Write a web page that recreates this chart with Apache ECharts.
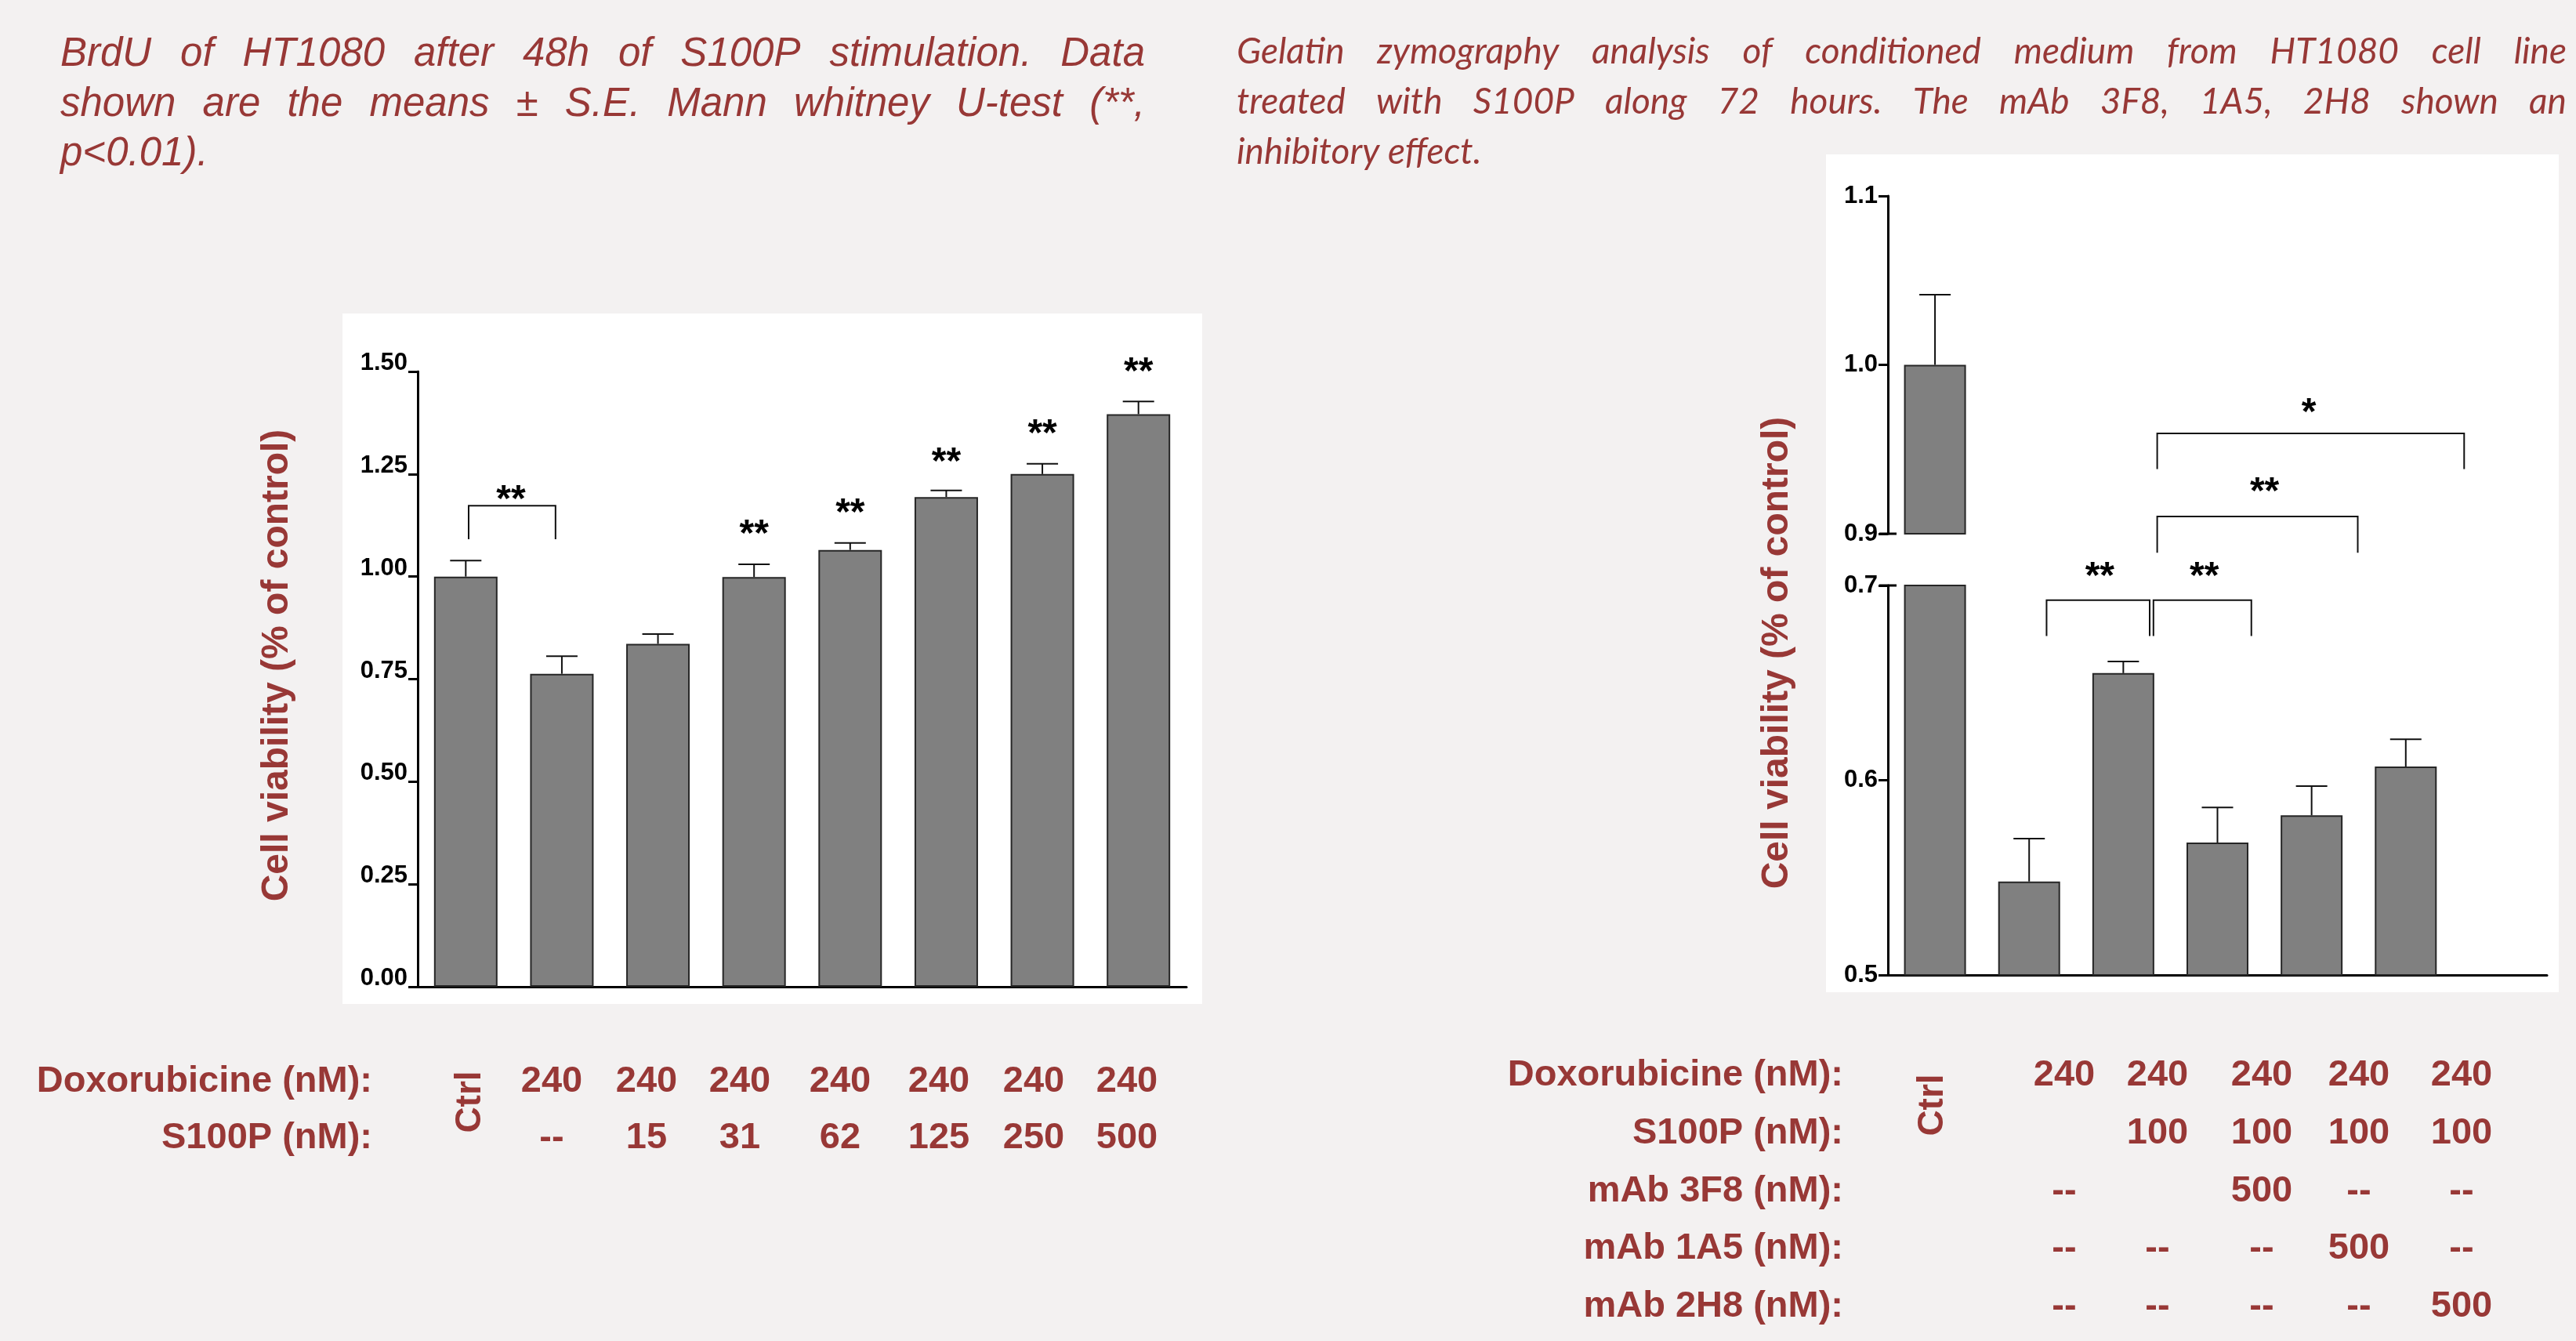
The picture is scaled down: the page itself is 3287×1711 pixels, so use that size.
<!DOCTYPE html>
<html>
<head>
<meta charset="utf-8">
<script src="https://cdn.jsdelivr.net/npm/echarts@6/dist/echarts.min.js"></script>
<style>
html, body { margin: 0; padding: 0; background: #f3f1f1; }
#main { width: 3287px; height: 1711px; }
</style>
</head>
<body>
<div id="main"></div>
<script>
var FONT = '"Liberation Sans", Arial, sans-serif';
var RED = '#983836';

// ---- left chart (BrdU) ----
var leftMeans = [1.000, 0.763, 0.836, 0.999, 1.065, 1.194, 1.250, 1.396];
var leftErrTop = [1.039, 0.806, 0.860, 1.030, 1.082, 1.210, 1.275, 1.427];
var leftTicks = [0, 0.25, 0.5, 0.75, 1.0, 1.25, 1.5];
// [x, y, text]
var leftStars = [[0.47, 1.206, '**'], [3, 1.121, '**'], [4, 1.172, '**'], [5, 1.298, '**'], [6, 1.366, '**'], [7, 1.517, '**']];
// [xFrom, xTo, yTop, yLeg]
var leftBrackets = [[0.03, 0.934, 1.173, 1.091]];

// ---- right chart (zymography), broken axis ----
var rightMeans = [1.000, 0.548, 0.655, 0.568, 0.582, 0.607];
var rightErrTop = [1.0415, 0.570, 0.661, 0.586, 0.597, 0.621];
var upperTicks = [0.9, 1.0, 1.1];
var lowerTicks = [0.5, 0.6, 0.7];
var upperBrackets = [[2.36, 4.49, 0.9102, 0.8888], [2.36, 5.62, 0.9594, 0.9383]];
var upperStars = [[3.5, 0.929, '**'], [3.97, 0.976, '*']];
var lowerBrackets = [[1.185, 2.28, 0.6925, 0.674], [2.32, 3.36, 0.6925, 0.674]];
var lowerStars = [[1.75, 0.7083, '**'], [2.86, 0.7083, '**']];

// ---- texts ----
var yTitle = 'Cell viability (% of control)';
var leftTitle = [
    'BrdU of HT1080 after 48h of S100P stimulation. Data',
    'shown are the means \u00b1 S.E. Mann whitney U-test  (**,',
    'p<0.01).'
];
var rightTitle = [
    'Gelatin zymography analysis of conditioned medium from HT1080 cell line',
    'treated with S100P along 72 hours. The mAb  3F8, 1A5, 2H8 shown an',
    'inhibitory effect.'
];
var leftRowLabels = ['Doxorubicine (nM):', 'S100P (nM):'];
var leftRowValues = [
    ['240', '240', '240', '240', '240', '240', '240'],
    ['--', '15', '31', '62', '125', '250', '500']
];
var rightRowLabels = ['Doxorubicine (nM):', 'S100P (nM):', 'mAb 3F8 (nM):', 'mAb 1A5 (nM):', 'mAb 2H8 (nM):'];
var rightRowValues = [
    ['240', '240', '240', '240', '240'],
    ['', '100', '100', '100', '100'],
    ['--', '', '500', '--', '--'],
    ['--', '--', '--', '500', '--'],
    ['--', '--', '--', '--', '500']
];

// layout of the tables
var leftCols = [704, 825, 944, 1072, 1198, 1319, 1438];
var leftBaselines = [1396, 1468];
var rightCols = [2634, 2753, 2886, 3010, 3141];
var rightBaselines = [1388, 1462, 1536, 1609, 1683];

var measureCtx = document.createElement('canvas').getContext('2d');

function textEl(x, y, text, font, align, rotation) {
    var el = {
        type: 'text', x: x, y: y, silent: true,
        style: {
            text: text, font: font, fill: RED,
            textAlign: align, align: align,
            textVerticalAlign: 'middle', verticalAlign: 'middle'
        }
    };
    if (rotation) el.rotation = rotation;
    return el;
}

// one line of text, words spread from x0 to x1 when justify is set
function paragraphLine(out, text, family, size, mid, x0, x1, baseline, justify) {
    var font = 'italic ' + size + 'px ' + family;
    measureCtx.font = font;
    var words = text.split(/\s+/);
    var widths = words.map(function(w) { return measureCtx.measureText(w).width; });
    var total = widths.reduce(function(a, b) { return a + b; }, 0);
    var gap = justify ? (x1 - x0 - total) / (words.length - 1) : measureCtx.measureText(' ').width;
    var x = x0;
    words.forEach(function(w, i) {
        out.push(textEl(x, baseline - mid * size, w, font, 'left'));
        x += widths[i] + gap;
    });
}

function fitSize(lines, family, size, width) {
    var s = size;
    lines.forEach(function(line) {
        measureCtx.font = 'italic ' + s + 'px ' + family;
        var words = line.split(/\s+/);
        var w = words.reduce(function(a, t) { return a + measureCtx.measureText(t).width; }, 0);
        var need = w + (words.length - 1) * 0.22 * s;
        if (need > width) s = s * width / need;
    });
    return s;
}

var graphics = [
    { type: 'rect', z: -10, silent: true, shape: { x: 437, y: 400, width: 1097, height: 881 }, style: { fill: '#ffffff' } },
    { type: 'rect', z: -10, silent: true, shape: { x: 2330, y: 197, width: 935, height: 1069 }, style: { fill: '#ffffff' } }
];

var LS = '"Liberation Sans", Arial, sans-serif';
var LATO = 'Lato, "Open Sans", sans-serif';
[88, 152, 215].forEach(function(b, i) {
    paragraphLine(graphics, leftTitle[i], LS, 51, 0.35, 77, 1461, b, i < 2);
});
var rsize = fitSize(rightTitle.slice(0, 2), LATO, 46, 1697);
[84, 148, 212].forEach(function(b, i) {
    paragraphLine(graphics, rightTitle[i], LATO, rsize, 0.387, 1578, 3275, b, i < 2);
});

graphics.push(textEl(354, 849, yTitle, 'bold 48px ' + LS, 'center', Math.PI / 2));
graphics.push(textEl(2268, 833, yTitle, 'bold 48px ' + LS, 'center', Math.PI / 2));

var tableFont = 'bold 47px ' + LS;
leftRowLabels.forEach(function(lab, r) {
    var y = leftBaselines[r] - 16;
    graphics.push(textEl(475, y, lab, tableFont, 'right'));
    leftRowValues[r].forEach(function(v, c) {
        if (v) graphics.push(textEl(leftCols[c], y, v, tableFont, 'center'));
    });
});
graphics.push(textEl(600, 1406, 'Ctrl', 'bold 46px ' + LS, 'center', Math.PI / 2));

rightRowLabels.forEach(function(lab, r) {
    var y = rightBaselines[r] - 16;
    graphics.push(textEl(2352, y, lab, tableFont, 'right'));
    rightRowValues[r].forEach(function(v, c) {
        if (v) graphics.push(textEl(rightCols[c], y, v, tableFont, 'center'));
    });
});
graphics.push(textEl(2466, 1410, 'Ctrl', 'bold 46px ' + LS, 'center', Math.PI / 2));

// ---- series builders ----
function barSeries(xi, yi, means, width) {
    return {
        type: 'bar', xAxisIndex: xi, yAxisIndex: yi, clip: true, silent: true,
        barWidth: width,
        data: means.map(function(v, i) { return [i, v]; }),
        itemStyle: { color: '#808080', borderColor: '#262626', borderWidth: 2 }
    };
}

function errorSeries(xi, yi, means, tops) {
    return {
        type: 'custom', xAxisIndex: xi, yAxisIndex: yi, clip: true, silent: true, z: 3,
        data: means.map(function(m, i) { return [i, m, tops[i]]; }),
        renderItem: function(params, api) {
            var x = api.value(0);
            var p0 = api.coord([x, api.value(1)]);
            var p1 = api.coord([x, api.value(2)]);
            var st = { stroke: '#111', lineWidth: 2 };
            return {
                type: 'group',
                children: [
                    { type: 'line', shape: { x1: p0[0], y1: p0[1], x2: p1[0], y2: p1[1] }, style: st },
                    { type: 'line', shape: { x1: p1[0] - 20, y1: p1[1], x2: p1[0] + 20, y2: p1[1] }, style: st }
                ]
            };
        }
    };
}

function bracketSeries(xi, yi, brackets) {
    return {
        type: 'custom', xAxisIndex: xi, yAxisIndex: yi, clip: false, silent: true, z: 4,
        data: brackets,
        renderItem: function(params, api) {
            var a = api.coord([api.value(0), api.value(3)]);
            var b = api.coord([api.value(0), api.value(2)]);
            var c = api.coord([api.value(1), api.value(2)]);
            var d = api.coord([api.value(1), api.value(3)]);
            return { type: 'polyline', shape: { points: [a, b, c, d] }, style: { stroke: '#111', lineWidth: 2, fill: null } };
        }
    };
}

function starSeries(xi, yi, stars) {
    var size = 48;
    return {
        type: 'custom', xAxisIndex: xi, yAxisIndex: yi, clip: false, silent: true, z: 4,
        data: stars.map(function(s) { return [s[0], s[1]]; }),
        renderItem: function(params, api) {
            var p = api.coord([api.value(0), api.value(1)]);
            return {
                type: 'text', x: p[0], y: p[1] + 0.22 * size,
                style: {
                    text: stars[params.dataIndex][2], font: 'bold ' + size + 'px ' + FONT, fill: '#000',
                    textAlign: 'center', align: 'center', textVerticalAlign: 'middle', verticalAlign: 'middle'
                }
            };
        }
    };
}

// little cross mark where the axis is broken
function breakSeries(xi, yi, y) {
    return {
        type: 'custom', xAxisIndex: xi, yAxisIndex: yi, clip: false, silent: true, z: 5,
        data: [[-0.5, y]],
        renderItem: function(params, api) {
            var p = api.coord([api.value(0), api.value(1)]);
            return { type: 'line', shape: { x1: p[0] - 11, y1: p[1], x2: p[0] + 11, y2: p[1] }, style: { stroke: '#000', lineWidth: 3 } };
        }
    };
}

function yAxis(grid, ticks, digits, vAlign, lh) {
    return {
        gridIndex: grid, type: 'value',
        min: ticks[0], max: ticks[ticks.length - 1], interval: ticks[1] - ticks[0],
        axisLine: { show: true, onZero: false, lineStyle: { color: '#000', width: 3 } },
        axisTick: { show: true, inside: false, length: 12, lineStyle: { color: '#000', width: 3 } },
        axisLabel: {
            margin: 13, color: '#000', fontFamily: FONT, fontWeight: 'bold', fontSize: 31,
            verticalAlign: vAlign, lineHeight: lh,
            formatter: function(v) { return v.toFixed(digits); }
        },
        splitLine: { show: false }
    };
}

function xAxis(grid, max, show) {
    return {
        gridIndex: grid, type: 'value', min: -0.5, max: max, show: show,
        axisLine: { show: show, onZero: false, lineStyle: { color: '#000', width: 3 } },
        axisTick: { show: false }, axisLabel: { show: false }, splitLine: { show: false }
    };
}

var myChart = echarts.init(document.getElementById('main'), null, { renderer: 'canvas' });
myChart.setOption({
    animation: false,
    backgroundColor: '#f3f1f1',
    grid: [
        { left: 533, top: 474, width: 981, height: 785, outerBoundsMode: 'none' },
        { left: 2409, top: 250, width: 841, height: 431, outerBoundsMode: 'none' },
        { left: 2409, top: 747, width: 841, height: 497, outerBoundsMode: 'none' }
    ],
    xAxis: [xAxis(0, 7.5, true), xAxis(1, 6.5, false), xAxis(2, 6.5, true)],
    yAxis: [yAxis(0, leftTicks, 2, 'bottom', 21), yAxis(1, upperTicks, 1, 'middle', 31), yAxis(2, lowerTicks, 1, 'middle', 31)],
    graphic: { elements: graphics },
    series: [
        barSeries(0, 0, leftMeans, 81),
        barSeries(1, 1, rightMeans, 79),
        barSeries(2, 2, rightMeans, 79),
        errorSeries(0, 0, leftMeans, leftErrTop),
        errorSeries(1, 1, rightMeans, rightErrTop),
        errorSeries(2, 2, rightMeans, rightErrTop),
        bracketSeries(0, 0, leftBrackets),
        bracketSeries(1, 1, upperBrackets),
        bracketSeries(2, 2, lowerBrackets),
        starSeries(0, 0, leftStars),
        starSeries(1, 1, upperStars),
        starSeries(2, 2, lowerStars),
        breakSeries(1, 1, 0.9),
        breakSeries(2, 2, 0.7)
    ]
});
</script>
</body>
</html>
